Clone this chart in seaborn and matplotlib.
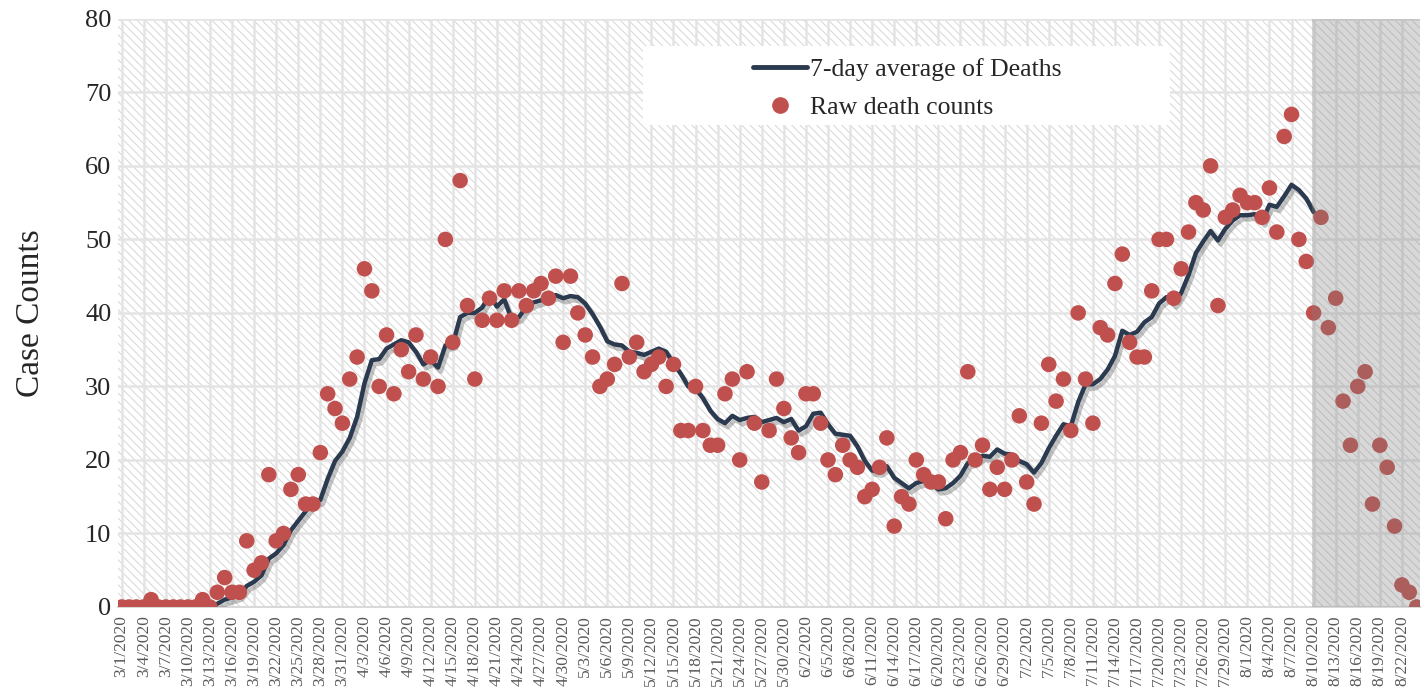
import numpy as np
import pandas as pd
import matplotlib
matplotlib.use("Agg")
import matplotlib.pyplot as plt
import matplotlib.patheffects as pe
from matplotlib.patches import Rectangle
from matplotlib.lines import Line2D
import seaborn as sns

# DATA
start_date = "2020-03-01"
raw_deaths = [
    0, 0, 0, 0, 1, 0, 0, 0, 0, 0, 0, 1, 0,
    2, 4, 2, 2, 9, 5, 6, 18, 9, 10, 16, 18, 14, 14, 21, 29, 27, 25, 31,
    34, 46, 43, 30, 37, 29, 35, 32, 37, 31, 34, 30, 50, 36, 58, 41, 31, 39,
    42, 39, 43, 39, 43, 41, 43, 44, 42, 45, 36, 45, 40, 37, 34, 30, 31, 33,
    44, 34, 36, 32, 33, 34, 30, 33, 24, 24, 30, 24, 22, 22, 29, 31, 20, 32,
    25, 17, 24, 31, 27, 23, 21, 29, 29, 25, 20, 18, 22, 20, 19, 15, 16, 19,
    23, 11, 15, 14, 20, 18, 17, 17, 12, 20, 21, 32, 20, 22, 16, 19, 16, 20,
    26, 17, 14, 25, 33, 28, 31, 24, 40, 31, 25, 38, 37, 44, 48, 36, 34, 34,
    43, 50, 50, 42, 46, 51, 55, 54, 60, 41, 53, 54, 56, 55, 55, 53, 57, 51,
    64, 67, 50, 47, 40, 53, 38, 42, 28, 22, 30, 32, 14, 22, 19, 11, 3, 2, 0,
]
avg_start = "2020-03-13"
avg_end = "2020-08-10"
shade_start = "2020-08-10"
y_ticks = [0, 10, 20, 30, 40, 50, 60, 70, 80]

# FRAME
dates = pd.date_range(start_date, periods=len(raw_deaths), freq="D")
df = pd.DataFrame({"date": dates, "deaths": raw_deaths})
df["day"] = np.arange(len(df))
df["avg7"] = df["deaths"].rolling(7).mean()
line_df = df[(df.date >= avg_start) & (df.date <= avg_end)]
shade_x = df.loc[df.date == shade_start, "day"].iloc[0]

tick_days = df["day"][::3]
tick_labels = [f"{d.month}/{d.day}/{d.year}" for d in df["date"][::3]]

# STYLE
sns.set_style("white")
plt.rcParams["font.family"] = ["Liberation Serif", "DejaVu Serif"]
plt.rcParams["hatch.linewidth"] = 0.7

fig = plt.figure(figsize=(14.26, 6.98), dpi=100)
ax = fig.add_axes([0.083, 0.1304, 0.913, 0.8426])

# hatched background
ax.add_patch(Rectangle((0, 0), 1, 1, transform=ax.transAxes, facecolor="white",
                       edgecolor="#d6d6d6", hatch="\\\\\\\\", lw=0, zorder=0))

sns.lineplot(data=line_df, x="day", y="avg7", color="#2B3A4F", lw=3.2, ax=ax,
             zorder=3, legend=False,
             path_effects=[pe.SimpleLineShadow(offset=(2, -3), shadow_color="#555555", alpha=0.35),
                           pe.Normal()])
sns.scatterplot(data=df, x="day", y="deaths", color="#C0504D", s=125,
                edgecolor="none", ax=ax, zorder=4, legend=False)

# shaded recent period
ax.axvspan(shade_x - 0.2, len(df), facecolor="#7f7f7f", alpha=0.3, lw=0, zorder=5)

ax.set_xlim(-0.45, len(df) - 0.5)
ax.set_ylim(0, 80)
ax.set_xticks(tick_days)
ax.set_xticklabels(tick_labels, rotation=90, fontsize=12.5, color="#595959")
ax.set_yticks(y_ticks)
ax.set_yticklabels([str(v) for v in y_ticks], fontsize=19, color="#262626")
ax.tick_params(axis="both", length=0)
ax.tick_params(axis="x", pad=6)
ax.tick_params(axis="y", pad=5)
ax.set_xlabel("")
ax.set_ylabel("Case Counts", fontsize=24, color="#262626", labelpad=28)

ax.set_axisbelow(True)
ax.grid(True, color="#e4e4e4", lw=1.8, zorder=0.5)
for side in ["left", "right", "top"]:
    ax.spines[side].set_visible(False)
ax.spines["bottom"].set_color("#d9d9d9")
ax.spines["bottom"].set_linewidth(1.5)

# legend on white box
ax.add_patch(Rectangle((0.403, 0.82), 0.405, 0.133, transform=ax.transAxes,
                       facecolor="white", edgecolor="none", zorder=6))
handles = [Line2D([], [], color="#2B3A4F", lw=3.5),
           Line2D([], [], color="#C0504D", marker="o", ls="none", markersize=11)]
leg = ax.legend(handles, ["7-day average of Deaths", "Raw death counts"],
                loc="upper left", bbox_to_anchor=(0.470, 0.973), frameon=False,
                fontsize=18.5, handlelength=2.1, handletextpad=0.1, labelspacing=0.6)
leg.set_zorder(7)

fig.savefig("out.png", dpi=100)
